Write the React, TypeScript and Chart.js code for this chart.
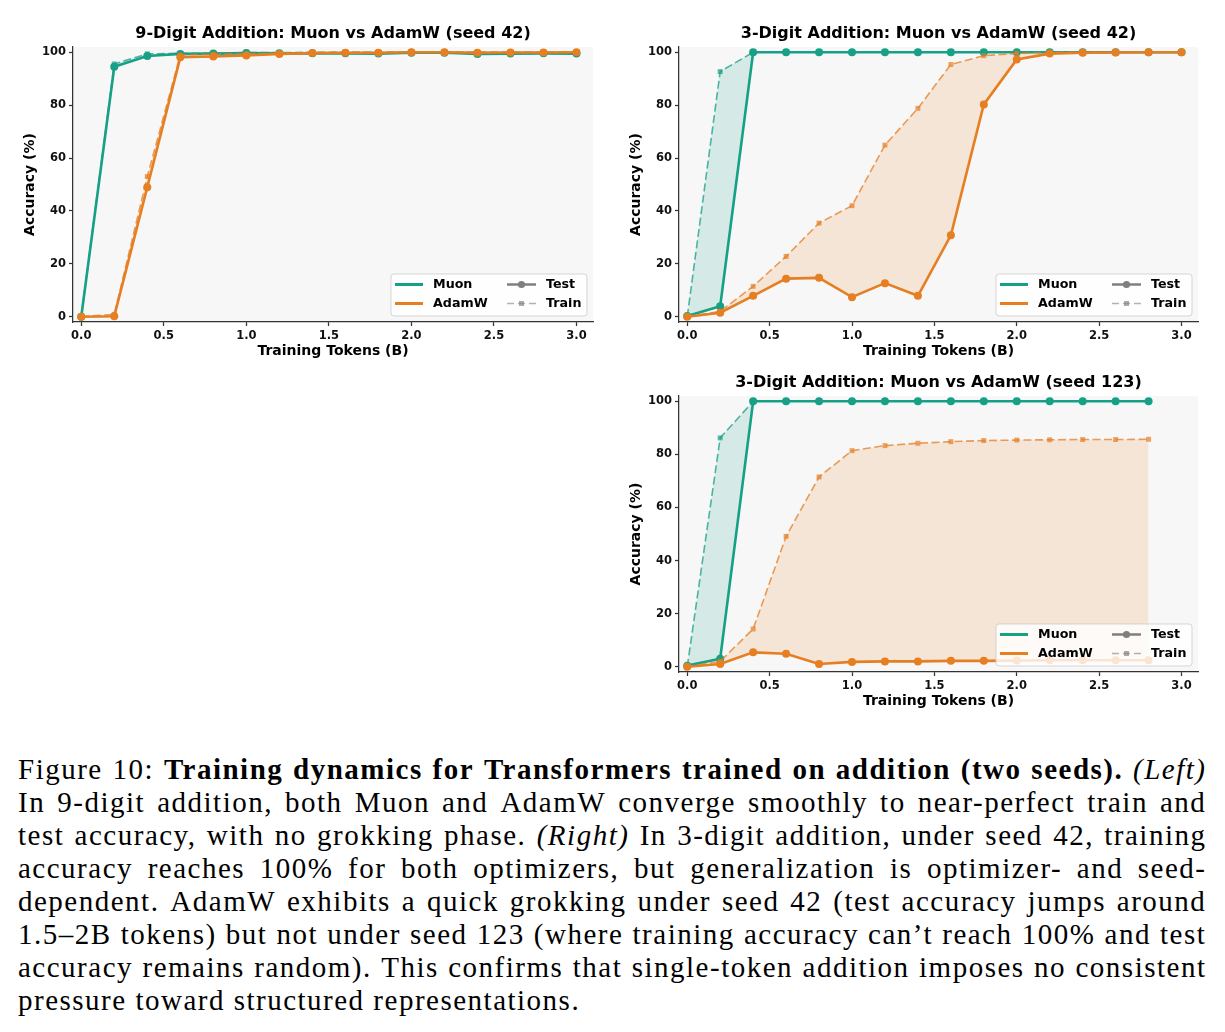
import React, { useEffect, useRef } from 'react';
import { Chart, registerables } from 'chart.js';

Chart.register(...registerables);

const FONT = '"DejaVu Sans", "Liberation Sans", sans-serif';
const TEAL = '#16A085';
const ORANGE = '#E67E22';
const GRAY = '#7f7f7f';

// ---------- data ----------
const tokens = [0, 0.2, 0.4, 0.6, 0.8, 1.0, 1.2, 1.4, 1.6, 1.8, 2.0, 2.2, 2.4, 2.6, 2.8, 3.0];
const tokens123 = [0, 0.2, 0.4, 0.6, 0.8, 1.0, 1.2, 1.4, 1.6, 1.8, 2.0, 2.2, 2.4, 2.6, 2.8];
const xTickValues = [0, 0.5, 1.0, 1.5, 2.0, 2.5, 3.0];
const yTickValues = [0, 20, 40, 60, 80, 100];

// 9-digit addition, seed 42
const muon9Test = [0, 94.5, 98.6, 99.4, 99.5, 99.7, 99.6, 99.6, 99.6, 99.5, 99.8, 99.8, 99.4, 99.5, 99.6, 99.5];
const muon9Train = [0, 95.6, 99.4, 99.6, 99.7, 99.9, 99.9, 100, 100, 100, 100, 100, 100, 100, 100, 100];
const adam9Test = [0, 0.2, 49, 98.1, 98.4, 98.8, 99.4, 99.7, 99.8, 99.8, 100, 100, 99.8, 99.9, 99.9, 100];
const adam9Train = [0, 0.9, 53, 99.0, 99.3, 99.5, 99.6, 99.9, 100, 100, 100, 100, 100, 100, 100, 100];

// 3-digit addition, seed 42
const muon42Test = [0.3, 4.0, 100, 100, 100, 100, 100, 100, 100, 100, 100, 100, 100, 100, 100, 100];
const muon42Train = [0, 92.7, 100, 100, 100, 100, 100, 100, 100, 100, 100, 100, 100, 100, 100, 100];
const adam42Test = [0, 1.5, 7.9, 14.4, 14.7, 7.4, 12.7, 7.9, 30.8, 80.3, 97.3, 99.5, 99.8, 99.9, 100, 100];
const adam42Train = [0, 2.0, 11.5, 22.8, 35.4, 42.0, 64.9, 78.8, 95.4, 98.7, 99.6, 100, 100, 100, 100, 100];

// 3-digit addition, seed 123
const muon123Test = [0.4, 3.0, 100, 100, 100, 100, 100, 100, 100, 100, 100, 100, 100, 100, 100];
const muon123Train = [0, 86.2, 100, 100, 100, 100, 100, 100, 100, 100, 100, 100, 100, 100, 100];
const adam123Test = [0, 1.0, 5.4, 4.9, 1.0, 1.8, 2.0, 2.0, 2.2, 2.2, 2.3, 2.4, 2.4, 2.4, 2.4];
const adam123Train = [0, 2.0, 14.2, 49.1, 71.5, 81.4, 83.3, 84.2, 84.8, 85.2, 85.4, 85.5, 85.6, 85.6, 85.7];

const titleNine = '9-Digit Addition: Muon vs AdamW (seed 42)';
const titleThree42 = '3-Digit Addition: Muon vs AdamW (seed 42)';
const titleThree123 = '3-Digit Addition: Muon vs AdamW (seed 123)';
const xLabel = 'Training Tokens (B)';
const yLabel = 'Accuracy (%)';

type Seg = [string, 'n' | 'b' | 'i'];
const captionLines: Seg[][] = [
  [['Figure 10:', 'n'], ['Training dynamics for Transformers trained on addition (two seeds).', 'b'], ['(Left)', 'i']],
  [['In 9-digit addition, both Muon and AdamW converge smoothly to near-perfect train and', 'n']],
  [['test accuracy, with no grokking phase.', 'n'], ['(Right)', 'i'], ['In 3-digit addition, under seed 42, training', 'n']],
  [['accuracy reaches 100% for both optimizers, but generalization is optimizer- and seed-', 'n']],
  [['dependent. AdamW exhibits a quick grokking under seed 42 (test accuracy jumps around', 'n']],
  [['1.5–2B tokens) but not under seed 123 (where training accuracy can’t reach 100% and test', 'n']],
  [['accuracy remains random). This confirms that single-token addition imposes no consistent', 'n']],
  [['pressure toward structured representations.', 'n']],
];

// ---------- helpers ----------
function rgba(hex: string, a: number) {
  const n = parseInt(hex.slice(1), 16);
  return `rgba(${(n >> 16) & 255},${(n >> 8) & 255},${n & 255},${a})`;
}
const pts = (xs: number[], ys: number[]) => ys.map((y, i) => ({ x: xs[i], y }));

function testDs(label: string, color: string, xs: number[], ys: number[]) {
  return {
    label,
    data: pts(xs, ys),
    borderColor: color,
    backgroundColor: color,
    borderWidth: 2.6,
    pointStyle: 'circle',
    pointRadius: 4,
    pointBackgroundColor: color,
    pointBorderColor: color,
    pointBorderWidth: 0,
    fill: false,
    tension: 0,
  };
}
function trainDs(label: string, color: string, xs: number[], ys: number[], target: number) {
  return {
    label,
    data: pts(xs, ys),
    borderColor: rgba(color, 0.75),
    backgroundColor: rgba(color, 0.15),
    borderWidth: 1.6,
    borderDash: [8, 3.5],
    pointStyle: 'rect',
    pointRadius: 3.5,
    pointBackgroundColor: rgba(color, 0.7),
    pointBorderColor: rgba(color, 0.7),
    pointBorderWidth: 0,
    fill: { target, above: rgba(color, 0.15), below: rgba(color, 0.15) },
    tension: 0,
  };
}

const Y_AXIS_W = 40;
const X_AXIS_H = 30;

type Box = { x: number; y: number; w: number; h: number };
type Area = { l: number; t: number; r: number; b: number };
type PanelSpec = {
  title: string;
  canvas: Box;
  area: Area;
  xs: number[];
  muonTest: number[];
  muonTrain: number[];
  adamTest: number[];
  adamTrain: number[];
};

function decorPlugin(title: string) {
  return {
    id: 'decor',
    beforeDraw(chart: any) {
      const { ctx, chartArea } = chart;
      const { left, top, right, bottom } = chartArea;
      ctx.save();
      ctx.fillStyle = '#f7f7f7';
      ctx.fillRect(left, top, right - left, bottom - top);
      ctx.restore();
    },
    afterDraw(chart: any) {
      const { ctx, chartArea } = chart;
      const { left, top, right, bottom } = chartArea;
      ctx.save();
      ctx.fillStyle = '#000';
      ctx.textAlign = 'center';
      ctx.textBaseline = 'alphabetic';
      ctx.font = `bold 16px ${FONT}`;
      ctx.fillText(title, (left + right) / 2, top - 9.5);
      ctx.font = `bold 14px ${FONT}`;
      ctx.fillText(xLabel, (left + right) / 2, bottom + 33);
      ctx.save();
      ctx.translate(left - 39.5, (top + bottom) / 2);
      ctx.rotate(-Math.PI / 2);
      ctx.fillText(yLabel, 0, 0);
      ctx.restore();

      // legend
      const W = 196;
      const H = 42;
      const L = right - 6 - W;
      const T = bottom - 6 - H;
      const rr = 3;
      ctx.beginPath();
      ctx.moveTo(L + rr, T);
      ctx.lineTo(L + W - rr, T);
      ctx.quadraticCurveTo(L + W, T, L + W, T + rr);
      ctx.lineTo(L + W, T + H - rr);
      ctx.quadraticCurveTo(L + W, T + H, L + W - rr, T + H);
      ctx.lineTo(L + rr, T + H);
      ctx.quadraticCurveTo(L, T + H, L, T + H - rr);
      ctx.lineTo(L, T + rr);
      ctx.quadraticCurveTo(L, T, L + rr, T);
      ctx.closePath();
      ctx.fillStyle = 'rgba(255,255,255,0.8)';
      ctx.fill();
      ctx.strokeStyle = 'rgba(204,204,204,0.8)';
      ctx.lineWidth = 1;
      ctx.stroke();

      const y1 = T + 10.5;
      const y2 = T + 29.5;
      const seg = (x0: number, x1: number, y: number, color: string, lw: number, dash: number[] = []) => {
        ctx.save();
        ctx.beginPath();
        ctx.setLineDash(dash);
        ctx.strokeStyle = color;
        ctx.lineWidth = lw;
        ctx.moveTo(x0, y);
        ctx.lineTo(x1, y);
        ctx.stroke();
        ctx.restore();
      };
      seg(L + 4, L + 32, y1, TEAL, 3);
      seg(L + 4, L + 32, y2, ORANGE, 3);
      seg(L + 116, L + 145, y1, GRAY, 2.5);
      ctx.beginPath();
      ctx.fillStyle = GRAY;
      ctx.arc(L + 130.5, y1, 3.6, 0, Math.PI * 2);
      ctx.fill();
      seg(L + 116, L + 145, y2, 'rgba(127,127,127,0.6)', 1.6, [7, 4]);
      ctx.fillStyle = 'rgba(127,127,127,0.65)';
      ctx.fillRect(L + 128, y2 - 2.5, 5, 5);

      ctx.fillStyle = '#000';
      ctx.textAlign = 'left';
      ctx.textBaseline = 'middle';
      ctx.font = `bold 12.7px ${FONT}`;
      ctx.fillText('Muon', L + 42, y1);
      ctx.fillText('AdamW', L + 42, y2);
      ctx.fillText('Test', L + 155, y1);
      ctx.fillText('Train', L + 155, y2);
      ctx.restore();
    },
  };
}

function Panel({ spec }: { spec: PanelSpec }) {
  const ref = useRef<HTMLCanvasElement | null>(null);
  useEffect(() => {
    if (!ref.current) return;
    const { canvas: c, area: a } = spec;
    const tickFont = { family: FONT, weight: 'bold' as const, size: 11.5 };
    const grid = {
      display: true,
      drawOnChartArea: false,
      drawTicks: true,
      tickLength: 4,
      tickWidth: 1.25,
      tickColor: '#333',
    };
    const border = { display: true, color: '#333', width: 1.25 };
    const chart = new Chart(ref.current, {
      type: 'line',
      data: {
        datasets: [
          testDs('AdamW Test', ORANGE, spec.xs, spec.adamTest),
          trainDs('AdamW Train', ORANGE, spec.xs, spec.adamTrain, 0),
          testDs('Muon Test', TEAL, spec.xs, spec.muonTest),
          trainDs('Muon Train', TEAL, spec.xs, spec.muonTrain, 2),
        ] as any,
      },
      options: {
        responsive: false,
        animation: false,
        events: [],
        layout: {
          padding: {
            left: a.l - c.x - Y_AXIS_W,
            top: a.t - c.y,
            right: c.x + c.w - a.r,
            bottom: c.y + c.h - a.b - X_AXIS_H,
          },
        },
        plugins: {
          legend: { display: false },
          title: { display: false },
          tooltip: { enabled: false },
          filler: { drawTime: 'beforeDatasetsDraw', propagate: false },
        } as any,
        scales: {
          x: {
            type: 'linear',
            min: -0.05,
            max: 3.1,
            afterBuildTicks: (s: any) => {
              s.ticks = xTickValues.map((v) => ({ value: v }));
            },
            afterFit: (s: any) => {
              s.height = X_AXIS_H;
            },
            ticks: {
              callback: (v: any) => Number(v).toFixed(1),
              font: tickFont,
              color: '#111',
              padding: 3,
              maxRotation: 0,
              autoSkip: false,
            },
            grid,
            border,
          },
          y: {
            type: 'linear',
            min: -2,
            max: 102,
            afterBuildTicks: (s: any) => {
              s.ticks = yTickValues.map((v) => ({ value: v }));
            },
            afterFit: (s: any) => {
              s.width = Y_AXIS_W;
            },
            ticks: {
              callback: (v: any) => String(v),
              font: tickFont,
              color: '#111',
              padding: 3,
              autoSkip: false,
            },
            grid,
            border,
          },
        } as any,
      },
      plugins: [decorPlugin(spec.title)],
    });
    return () => chart.destroy();
  }, [spec]);
  const { canvas: c } = spec;
  return (
    <canvas
      ref={ref}
      width={c.w}
      height={c.h}
      style={{ position: 'absolute', left: c.x, top: c.y, width: c.w, height: c.h }}
    />
  );
}

const panels: PanelSpec[] = [
  {
    title: titleNine,
    canvas: { x: 0, y: 0, w: 610, h: 365 },
    area: { l: 73, t: 47, r: 593, b: 322 },
    xs: tokens,
    muonTest: muon9Test,
    muonTrain: muon9Train,
    adamTest: adam9Test,
    adamTrain: adam9Train,
  },
  {
    title: titleThree42,
    canvas: { x: 610, y: 0, w: 615, h: 365 },
    area: { l: 679, t: 47, r: 1198, b: 322 },
    xs: tokens,
    muonTest: muon42Test,
    muonTrain: muon42Train,
    adamTest: adam42Test,
    adamTrain: adam42Train,
  },
  {
    title: titleThree123,
    canvas: { x: 610, y: 365, w: 615, h: 355 },
    area: { l: 679, t: 396, r: 1198, b: 672 },
    xs: tokens123,
    muonTest: muon123Test,
    muonTrain: muon123Train,
    adamTest: adam123Test,
    adamTrain: adam123Train,
  },
];

const styleOf = (s: 'n' | 'b' | 'i'): React.CSSProperties =>
  s === 'b' ? { fontWeight: 'bold' } : s === 'i' ? { fontStyle: 'italic' } : {};

function Caption() {
  return (
    <div
      style={{
        position: 'absolute',
        left: 18,
        top: 753,
        width: 1187,
        fontFamily: '"Liberation Serif", "DejaVu Serif", serif',
        fontSize: 29,
        letterSpacing: '1.5px',
        lineHeight: '33px',
        color: '#000',
      }}
    >
      {captionLines.map((segs, i) => {
        const words: { w: string; s: 'n' | 'b' | 'i' }[] = [];
        segs.forEach(([t, s]) => t.split(' ').filter(Boolean).forEach((w) => words.push({ w, s })));
        const last = i === captionLines.length - 1;
        if (last) {
          return (
            <div key={i} style={{ whiteSpace: 'nowrap', height: 33 }}>
              {words.map((o) => o.w).join(' ')}
            </div>
          );
        }
        return (
          <div
            key={i}
            style={{
              display: 'flex',
              justifyContent: 'space-between',
              whiteSpace: 'nowrap',
              height: 33,
              marginRight: -1.5,
            }}
          >
            {words.map((o, j) => (
              <span key={j} style={styleOf(o.s)}>
                {o.w}
              </span>
            ))}
          </div>
        );
      })}
    </div>
  );
}

export default function App() {
  return (
    <div
      style={{
        position: 'absolute',
        left: 0,
        top: 0,
        width: 1225,
        height: 1032,
        background: '#fff',
        overflow: 'hidden',
      }}
    >
      {panels.map((p, i) => (
        <Panel key={i} spec={p} />
      ))}
      <Caption />
    </div>
  );
}
